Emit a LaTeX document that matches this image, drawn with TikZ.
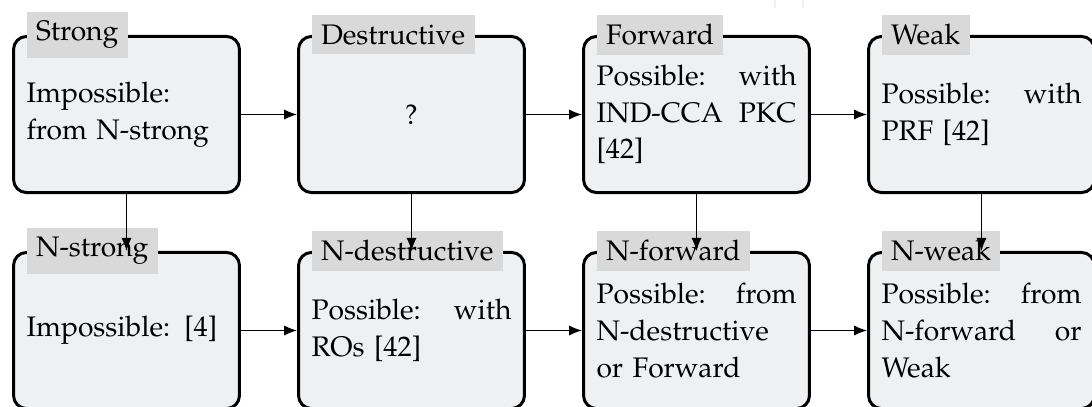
\documentclass[tikz,border=0pt]{standalone}
\usepackage[T1]{fontenc}
\usepackage{mathpazo}
\usepackage{tikz}
\usetikzlibrary{positioning}
\usetikzlibrary{arrows.meta}
\usepackage{xcolor}
\definecolor{boxgray}{HTML}{EFF0F2}
\definecolor{titlegray}{HTML}{D9D9D9}

\begin{document}
\begin{tikzpicture}[x=0.3536pt, y=-0.3536pt,
  every node/.style={font=\fontsize{10pt}{13pt}\selectfont},
  notion/.style={draw=black, line width=1.05pt, rounded corners=4.6pt, fill=boxgray,
    minimum height=55.2pt, text width=70.7pt, inner xsep=4.6pt, align=left},
  notiontitle/.style={fill=titlegray, anchor=west, xshift=4.95pt, inner sep=3.33pt},
  imply/.style={-{Latex[length=4.6pt,width=3.6pt]}, line width=0.45pt}]

\useasboundingbox (0,0) rectangle (1092,407);

% faint marks at the top edge
\draw[gray!12, line width=0.6pt] (775,0)--(775,8);
\draw[gray!12, line width=0.6pt] (803,0)--(803,8);

% upper row
\node at (126.5,114.5) [notion] (strong) {Impossible:\\ from N-strong};
\node at (411.5,114.5) [notion, align=center] (destr) {?};
\node at (696.5,114.5) [notion] (fwd) {Possible:\hfill with\\ IND-CCA\hfill PKC\\ {[42]}};
\node at (981.5,114.5) [notion] (weak) {Possible:\hfill with\\ PRF [42]};

% lower row
\node at (126.5,330.5) [notion] (nstrong) {Impossible: [4]};
\node at (411.5,330.5) [notion] (ndestr) {Possible:\hfill with\\ ROs [42]};
\node at (696.5,330.5) [notion] (nfwd) {Possible:\hfill from\\ N-destructive\\ or Forward};
\node at (981.5,330.5) [notion] (nweak) {Possible:\hfill from\\ N-forward\hfill or\\ Weak};

% titles
\node at (strong.north west) [notiontitle] (strong-t) {Strong};
\node at (destr.north west) [notiontitle] (destr-t) {Destructive};
\node at (fwd.north west) [notiontitle] (fwd-t) {Forward};
\node at (weak.north west) [notiontitle] (weak-t) {Weak};
\node at (nstrong.north west) [notiontitle] (nstrong-t) {N-strong};
\node at (ndestr.north west) [notiontitle] (ndestr-t) {N-destructive};
\node at (nfwd.north west) [notiontitle] (nfwd-t) {N-forward};
\node at (nweak.north west) [notiontitle] (nweak-t) {N-weak};

% implications
\draw[imply] (strong) -- (destr);
\draw[imply] (destr) -- (fwd);
\draw[imply] (fwd) -- (weak);
\draw[imply] (nstrong) -- (ndestr);
\draw[imply] (ndestr) -- (nfwd);
\draw[imply] (nfwd) -- (nweak);

\draw[imply] (strong) -- (nstrong);
\draw[imply] (destr) -- (ndestr);
\draw[imply] (fwd) -- (nfwd);
\draw[imply] (weak) -- (nweak);

\end{tikzpicture}
\end{document}
